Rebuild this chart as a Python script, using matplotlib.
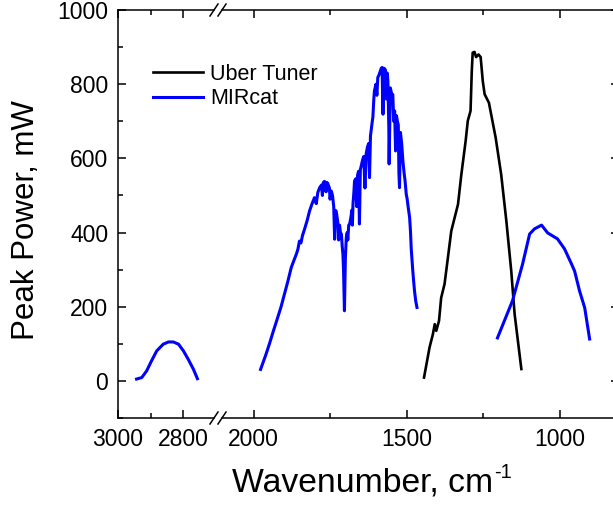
import matplotlib
matplotlib.use("Agg")
import matplotlib.pyplot as plt
from matplotlib.ticker import MultipleLocator
from matplotlib.lines import Line2D

plt.rcParams['font.family'] = ['Liberation Sans', 'DejaVu Sans']
plt.rcParams['mathtext.default'] = 'regular'

# MIRcat, 3 um chip
mir1_x = [2943, 2927, 2912, 2897, 2881, 2861, 2845, 2830, 2814, 2799, 2784, 2768, 2756]
mir1_y = [5, 9, 27, 54, 81, 99, 105, 105, 99, 81, 58, 31, 6]

# MIRcat, 5-7 um chips (with water lines)
mir2_x = [1977, 1960, 1948, 1935, 1921, 1910, 1899, 1888, 1877, 1868, 1860, 1855,
          1850, 1845, 1840, 1833, 1825, 1817, 1810, 1801, 1795, 1790, 1784, 1778,
          1775, 1772, 1768, 1763, 1760, 1757, 1752, 1750, 1746, 1742, 1738, 1735,
          1733, 1730, 1725, 1722, 1719, 1716, 1713, 1710, 1708, 1706, 1703, 1700,
          1697, 1694, 1692, 1689, 1686, 1682, 1679, 1677, 1675, 1672, 1670, 1666,
          1663, 1660, 1657, 1654, 1651, 1648, 1644, 1640, 1636, 1632, 1628, 1624,
          1621, 1618, 1615, 1612, 1610, 1607, 1605, 1600, 1597, 1594, 1590, 1586,
          1583, 1580, 1577, 1575, 1572, 1569, 1566, 1563, 1561, 1558, 1557, 1553,
          1549, 1545, 1542, 1539, 1536, 1533, 1530, 1527, 1525, 1523, 1520, 1516,
          1512, 1508, 1505, 1501, 1498, 1495, 1490, 1487, 1485, 1480, 1477, 1474,
          1470, 1466]
mir2_y = [31, 70, 100, 135, 171, 200, 234, 268, 305, 325, 342, 355,
          377, 372, 392, 410, 432, 458, 475, 494, 478, 508, 521, 528,
          500, 535, 538, 510, 535, 531, 520, 490, 512, 500, 470, 382,
          460, 458, 430, 380, 420, 400, 396, 360, 342, 300, 189, 330,
          386, 400, 380, 420, 423, 440, 460, 420, 477, 510, 539, 545,
          470, 555, 565, 423, 570, 580, 595, 605, 520, 612, 630, 640,
          548, 660, 680, 700, 712, 760, 782, 800, 770, 818, 825, 835,
          842, 845, 719, 843, 842, 838, 760, 830, 809, 683, 585, 790,
          775, 772, 700, 728, 620, 715, 700, 690, 560, 521, 670, 640,
          593, 560, 540, 503, 490, 470, 440, 400, 359, 300, 270, 242,
          215, 198]

# MIRcat, 8-11 um chip
mir3_x = [1203, 1154, 1121, 1098, 1082, 1059, 1039, 1023, 1007, 984, 961, 951, 935, 918, 902]
mir3_y = [116, 216, 315, 396, 410, 420, 399, 391, 383, 356, 315, 296, 243, 197, 113]

# Uber Tuner
uber_x = [1443, 1425, 1414, 1408, 1403, 1394, 1387, 1376, 1365, 1354, 1332, 1321,
          1307, 1300, 1291, 1287, 1284, 1278, 1273, 1265, 1258, 1251, 1245, 1231,
          1209, 1191, 1174, 1158, 1147, 1125]
uber_y = [9, 90, 126, 153, 135, 162, 224, 261, 332, 404, 476, 557,
          647, 701, 728, 835, 885, 887, 873, 880, 873, 808, 773, 750,
          656, 557, 431, 296, 180, 32]

W, H = 613, 508
fig = plt.figure(figsize=(W / 100, H / 100), dpi=100)


def box(x0, x1, y0=10, y1=418):
    return [x0 / W, 1 - y1 / H, (x1 - x0) / W, (y1 - y0) / H]


axl = fig.add_axes(box(118, 214))
axr = fig.add_axes(box(222, 619), sharey=axl)

blue = '#0000ff'
axl.plot(mir1_x, mir1_y, color=blue, lw=2.2)
axr.plot(uber_x, uber_y, color='black', lw=1.9, label='Uber Tuner')
axr.plot(mir2_x, mir2_y, color=blue, lw=2.2, label='MIRcat')
axr.plot(mir3_x, mir3_y, color=blue, lw=2.2)

axl.set_xlim(3000, 2705)
axr.set_xlim(2103, 806)
axl.set_ylim(-100, 1000)

axl.xaxis.set_major_locator(MultipleLocator(200))
axl.xaxis.set_minor_locator(MultipleLocator(100))
axr.xaxis.set_major_locator(MultipleLocator(500))
axr.xaxis.set_minor_locator(MultipleLocator(250))
axl.yaxis.set_major_locator(MultipleLocator(200))
axl.yaxis.set_minor_locator(MultipleLocator(100))

for ax in (axl, axr):
    for s in ax.spines.values():
        s.set_linewidth(1.1)
    ax.tick_params(which='both', direction='in', width=1.1, top=True,
                   labelsize=16.5, pad=7)
    ax.tick_params(which='major', length=6)
    ax.tick_params(which='minor', length=3.5)

axl.spines['right'].set_visible(False)
axl.tick_params(which='both', right=False)
axr.spines['left'].set_visible(False)
axr.tick_params(which='both', left=False, labelleft=False, right=True)

# axis break marks
for xb in (214, 222):
    for yb in (10, 418):
        fig.add_artist(Line2D([(xb - 4) / W, (xb + 4) / W],
                              [1 - (yb + 6) / H, 1 - (yb - 6) / H],
                              color='black', lw=1.1))

fig.text(26 / W, 1 - 220 / H, 'Peak Power, mW', rotation=90,
         ha='center', va='center', fontsize=22.5)
xl = fig.text(232 / W, 1 - 491 / H, 'Wavenumber, cm',
              ha='left', va='baseline', fontsize=24.3)
# superscript placed right after the label text
r = fig.canvas.get_renderer()
x_end = xl.get_window_extent(r).x1
fig.text(x_end / W + 0.001, 1 - 478 / H, '-1',
         ha='left', va='baseline', fontsize=14.5)

fig.legend(*axr.get_legend_handles_labels(), loc='upper left',
           bbox_to_anchor=(153 / W, 1 - 64 / H), frameon=False,
           fontsize=15.5, handlelength=2.3, handletextpad=0.35,
           labelspacing=0.15, borderpad=0, borderaxespad=0)

fig.savefig('out.png', dpi=100)
